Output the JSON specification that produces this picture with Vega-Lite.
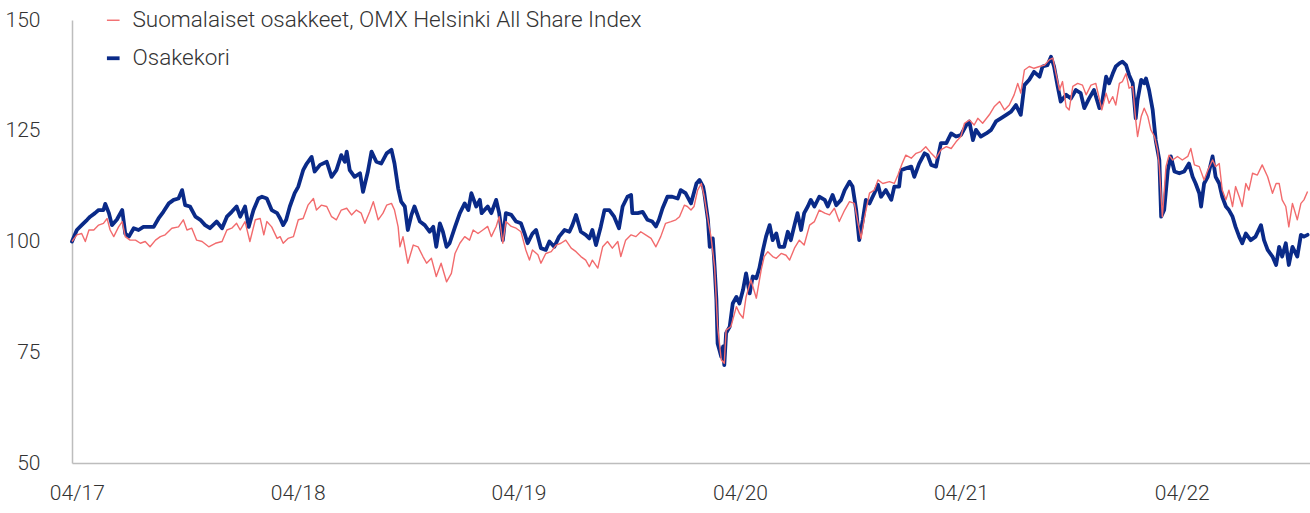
{
"$schema": "https://vega.github.io/schema/vega-lite/v6.json",
"width": 1238, "height": 443,
"autosize": {"type": "none"},
"padding": {"left": 72, "top": 20, "right": 0, "bottom": 50},
"background": "white",
"config": {
 "view": {"stroke": null},
 "font": "Roboto",
 "axis": {"grid": false, "ticks": false, "domainColor": "#bdbdbd", "domainWidth": 1.5, "labelFont": "Roboto", "labelFontWeight": 300, "labelFontSize": 21, "labelColor": "#333333", "title": null},
 "legend": {"orient": "none", "legendX": 30, "legendY": -11, "direction": "vertical", "padding": 0, "labelFont": "Roboto", "labelFontWeight": 300, "labelFontSize": 22.5, "labelColor": "#333333", "labelLimit": 800, "labelOffset": 8, "rowPadding": 15, "symbolType": "stroke", "symbolSize": 160, "title": null}
},
"datasets": {
"kori": [
{"d":"2017-03-24","v":100},{"d":"2017-04-01","v":102.6},{"d":"2017-04-09","v":103.7},{"d":"2017-04-18","v":104.9},{"d":"2017-04-23","v":105.6},{"d":"2017-05-01","v":106.4},{"d":"2017-05-07","v":107.1},{"d":"2017-05-15","v":107.1},{"d":"2017-05-18","v":108.5},{"d":"2017-05-24","v":106.4},{"d":"2017-05-29","v":103.7},{"d":"2017-06-06","v":104.9},{"d":"2017-06-15","v":107.1},{"d":"2017-06-20","v":101.8},{"d":"2017-06-26","v":101.1},{"d":"2017-07-04","v":103.0},{"d":"2017-07-12","v":102.6},{"d":"2017-07-20","v":103.3},{"d":"2017-07-29","v":103.3},{"d":"2017-08-06","v":103.3},{"d":"2017-08-14","v":105.2},{"d":"2017-08-22","v":106.7},{"d":"2017-08-31","v":108.6},{"d":"2017-09-08","v":109.4},{"d":"2017-09-16","v":109.7},{"d":"2017-09-22","v":111.6},{"d":"2017-09-27","v":108.2},{"d":"2017-10-05","v":107.9},{"d":"2017-10-14","v":105.6},{"d":"2017-10-22","v":104.9},{"d":"2017-10-30","v":103.7},{"d":"2017-11-07","v":103.0},{"d":"2017-11-18","v":104.5},{"d":"2017-11-27","v":103.0},{"d":"2017-12-05","v":105.6},{"d":"2017-12-13","v":106.7},{"d":"2017-12-21","v":107.9},{"d":"2017-12-27","v":105.6},{"d":"2018-01-04","v":107.9},{"d":"2018-01-10","v":103.3},{"d":"2018-01-18","v":107.1},{"d":"2018-01-26","v":109.7},{"d":"2018-02-01","v":110.1},{"d":"2018-02-09","v":109.7},{"d":"2018-02-17","v":107.1},{"d":"2018-02-26","v":106.4},{"d":"2018-03-03","v":105.2},{"d":"2018-03-08","v":103.7},{"d":"2018-03-13","v":104.9},{"d":"2018-03-19","v":107.9},{"d":"2018-03-27","v":110.9},{"d":"2018-04-02","v":112.4},{"d":"2018-04-10","v":116.1},{"d":"2018-04-16","v":117.6},{"d":"2018-04-24","v":119.1},{"d":"2018-04-29","v":115.8},{"d":"2018-05-08","v":117.3},{"d":"2018-05-19","v":118.0},{"d":"2018-05-27","v":114.6},{"d":"2018-06-04","v":116.1},{"d":"2018-06-12","v":119.5},{"d":"2018-06-18","v":118.0},{"d":"2018-06-21","v":120.3},{"d":"2018-06-26","v":116.1},{"d":"2018-07-04","v":114.6},{"d":"2018-07-13","v":115.4},{"d":"2018-07-18","v":111.2},{"d":"2018-07-26","v":115.8},{"d":"2018-08-01","v":120.3},{"d":"2018-08-09","v":118.0},{"d":"2018-08-17","v":117.6},{"d":"2018-08-26","v":119.9},{"d":"2018-09-03","v":120.7},{"d":"2018-09-08","v":117.6},{"d":"2018-09-14","v":112.0},{"d":"2018-09-19","v":109.0},{"d":"2018-09-25","v":107.9},{"d":"2018-09-30","v":102.6},{"d":"2018-10-06","v":106.0},{"d":"2018-10-11","v":107.9},{"d":"2018-10-20","v":104.5},{"d":"2018-10-28","v":103.7},{"d":"2018-11-05","v":102.2},{"d":"2018-11-11","v":103.3},{"d":"2018-11-16","v":98.8},{"d":"2018-11-22","v":104.1},{"d":"2018-11-27","v":102.2},{"d":"2018-12-03","v":98.8},{"d":"2018-12-08","v":99.6},{"d":"2018-12-17","v":103.3},{"d":"2018-12-25","v":106.4},{"d":"2019-01-02","v":108.6},{"d":"2019-01-08","v":107.1},{"d":"2019-01-13","v":110.9},{"d":"2019-01-21","v":107.9},{"d":"2019-01-27","v":109.4},{"d":"2019-01-30","v":106.4},{"d":"2019-02-09","v":107.9},{"d":"2019-02-15","v":106.4},{"d":"2019-02-23","v":109.4},{"d":"2019-02-28","v":106.4},{"d":"2019-03-06","v":100.3},{"d":"2019-03-11","v":106.4},{"d":"2019-03-20","v":106.0},{"d":"2019-03-28","v":104.5},{"d":"2019-04-05","v":104.1},{"d":"2019-04-11","v":101.8},{"d":"2019-04-16","v":99.6},{"d":"2019-04-24","v":101.8},{"d":"2019-04-30","v":102.6},{"d":"2019-05-08","v":98.5},{"d":"2019-05-16","v":98.1},{"d":"2019-05-22","v":100.0},{"d":"2019-05-30","v":98.8},{"d":"2019-06-07","v":101.1},{"d":"2019-06-16","v":102.6},{"d":"2019-06-24","v":102.2},{"d":"2019-06-29","v":103.7},{"d":"2019-07-05","v":106.0},{"d":"2019-07-13","v":102.2},{"d":"2019-07-21","v":101.5},{"d":"2019-07-27","v":100.7},{"d":"2019-08-01","v":102.6},{"d":"2019-08-07","v":99.2},{"d":"2019-08-15","v":103.4},{"d":"2019-08-21","v":107.1},{"d":"2019-08-29","v":107.1},{"d":"2019-09-06","v":105.6},{"d":"2019-09-14","v":103.0},{"d":"2019-09-20","v":107.9},{"d":"2019-09-28","v":110.1},{"d":"2019-10-04","v":110.5},{"d":"2019-10-06","v":106.4},{"d":"2019-10-15","v":106.4},{"d":"2019-10-23","v":106.7},{"d":"2019-10-31","v":104.9},{"d":"2019-11-08","v":104.5},{"d":"2019-11-14","v":103.4},{"d":"2019-11-19","v":104.9},{"d":"2019-11-25","v":107.5},{"d":"2019-12-03","v":110.1},{"d":"2019-12-11","v":110.1},{"d":"2019-12-20","v":109.7},{"d":"2019-12-25","v":111.6},{"d":"2020-01-02","v":110.9},{"d":"2020-01-11","v":108.6},{"d":"2020-01-20","v":113.1},{"d":"2020-01-25","v":113.9},{"d":"2020-01-31","v":112.4},{"d":"2020-02-02","v":110.9},{"d":"2020-02-08","v":104.9},{"d":"2020-02-11","v":98.8},{"d":"2020-02-16","v":100.7},{"d":"2020-02-19","v":94.3},{"d":"2020-02-22","v":86.8},{"d":"2020-02-24","v":77.0},{"d":"2020-02-27","v":75.5},{"d":"2020-03-01","v":74.0},{"d":"2020-03-04","v":76.3},{"d":"2020-03-06","v":72.1},{"d":"2020-03-09","v":79.3},{"d":"2020-03-15","v":80.8},{"d":"2020-03-20","v":86.0},{"d":"2020-03-26","v":87.5},{"d":"2020-03-31","v":86.0},{"d":"2020-04-06","v":89.1},{"d":"2020-04-11","v":92.8},{"d":"2020-04-17","v":88.3},{"d":"2020-04-22","v":92.1},{"d":"2020-04-28","v":91.7},{"d":"2020-05-03","v":94.0},{"d":"2020-05-09","v":98.1},{"d":"2020-05-14","v":101.1},{"d":"2020-05-20","v":103.7},{"d":"2020-05-25","v":100.3},{"d":"2020-05-31","v":101.8},{"d":"2020-06-05","v":98.8},{"d":"2020-06-13","v":98.8},{"d":"2020-06-19","v":102.2},{"d":"2020-06-24","v":100.3},{"d":"2020-06-30","v":103.7},{"d":"2020-07-05","v":106.4},{"d":"2020-07-11","v":102.6},{"d":"2020-07-16","v":106.4},{"d":"2020-07-22","v":107.9},{"d":"2020-07-27","v":109.4},{"d":"2020-08-02","v":107.9},{"d":"2020-08-10","v":110.1},{"d":"2020-08-19","v":109.4},{"d":"2020-08-24","v":107.9},{"d":"2020-09-01","v":110.5},{"d":"2020-09-07","v":108.2},{"d":"2020-09-15","v":109.4},{"d":"2020-09-21","v":111.6},{"d":"2020-09-29","v":113.5},{"d":"2020-10-04","v":112.4},{"d":"2020-10-10","v":107.1},{"d":"2020-10-15","v":100.3},{"d":"2020-10-21","v":104.9},{"d":"2020-10-26","v":109.4},{"d":"2020-11-01","v":108.6},{"d":"2020-11-09","v":110.9},{"d":"2020-11-15","v":112.8},{"d":"2020-11-20","v":110.1},{"d":"2020-11-28","v":111.6},{"d":"2020-12-07","v":109.4},{"d":"2020-12-12","v":112.4},{"d":"2020-12-20","v":112.4},{"d":"2020-12-23","v":116.1},{"d":"2020-12-31","v":116.5},{"d":"2021-01-09","v":116.9},{"d":"2021-01-14","v":114.6},{"d":"2021-01-22","v":117.6},{"d":"2021-01-31","v":119.9},{"d":"2021-02-05","v":119.5},{"d":"2021-02-11","v":117.3},{"d":"2021-02-19","v":116.9},{"d":"2021-02-27","v":122.2},{"d":"2021-03-08","v":122.2},{"d":"2021-03-16","v":124.4},{"d":"2021-03-24","v":123.7},{"d":"2021-04-01","v":124.0},{"d":"2021-04-10","v":126.3},{"d":"2021-04-15","v":127.1},{"d":"2021-04-21","v":122.9},{"d":"2021-04-26","v":125.2},{"d":"2021-05-04","v":123.7},{"d":"2021-05-13","v":124.4},{"d":"2021-05-21","v":125.2},{"d":"2021-05-29","v":127.1},{"d":"2021-06-06","v":127.8},{"d":"2021-06-15","v":128.6},{"d":"2021-06-23","v":129.3},{"d":"2021-07-01","v":130.8},{"d":"2021-07-09","v":128.6},{"d":"2021-07-15","v":135.3},{"d":"2021-07-23","v":136.5},{"d":"2021-07-31","v":138.3},{"d":"2021-08-09","v":137.2},{"d":"2021-08-14","v":139.5},{"d":"2021-08-22","v":139.8},{"d":"2021-08-28","v":141.7},{"d":"2021-09-02","v":139.5},{"d":"2021-09-08","v":135.0},{"d":"2021-09-13","v":131.6},{"d":"2021-09-22","v":133.1},{"d":"2021-09-30","v":132.3},{"d":"2021-10-08","v":134.2},{"d":"2021-10-16","v":133.5},{"d":"2021-10-22","v":130.1},{"d":"2021-10-30","v":132.3},{"d":"2021-11-07","v":134.2},{"d":"2021-11-16","v":130.1},{"d":"2021-11-21","v":131.9},{"d":"2021-11-27","v":137.2},{"d":"2021-12-02","v":135.7},{"d":"2021-12-08","v":137.9},{"d":"2021-12-13","v":139.5},{"d":"2021-12-19","v":140.2},{"d":"2021-12-24","v":140.6},{"d":"2021-12-30","v":139.8},{"d":"2022-01-04","v":137.6},{"d":"2022-01-10","v":135.7},{"d":"2022-01-15","v":127.8},{"d":"2022-01-18","v":131.9},{"d":"2022-01-24","v":136.5},{"d":"2022-01-29","v":135.7},{"d":"2022-02-01","v":136.8},{"d":"2022-02-06","v":134.2},{"d":"2022-02-12","v":129.7},{"d":"2022-02-17","v":122.9},{"d":"2022-02-23","v":118.4},{"d":"2022-02-26","v":105.6},{"d":"2022-03-03","v":107.1},{"d":"2022-03-09","v":116.1},{"d":"2022-03-14","v":119.2},{"d":"2022-03-20","v":115.8},{"d":"2022-03-28","v":115.4},{"d":"2022-04-05","v":115.8},{"d":"2022-04-13","v":117.6},{"d":"2022-04-19","v":114.6},{"d":"2022-04-24","v":113.1},{"d":"2022-04-30","v":110.9},{"d":"2022-05-03","v":107.9},{"d":"2022-05-08","v":113.1},{"d":"2022-05-14","v":114.6},{"d":"2022-05-22","v":119.2},{"d":"2022-05-27","v":114.6},{"d":"2022-06-02","v":113.1},{"d":"2022-06-07","v":110.1},{"d":"2022-06-13","v":107.9},{"d":"2022-06-18","v":107.1},{"d":"2022-06-24","v":105.6},{"d":"2022-06-29","v":103.3},{"d":"2022-07-05","v":101.1},{"d":"2022-07-10","v":99.6},{"d":"2022-07-16","v":101.8},{"d":"2022-07-24","v":100.3},{"d":"2022-08-01","v":101.1},{"d":"2022-08-10","v":103.7},{"d":"2022-08-15","v":100.3},{"d":"2022-08-21","v":98.1},{"d":"2022-08-29","v":96.6},{"d":"2022-09-04","v":94.7},{"d":"2022-09-09","v":98.8},{"d":"2022-09-14","v":96.6},{"d":"2022-09-20","v":99.6},{"d":"2022-09-25","v":94.7},{"d":"2022-10-01","v":98.8},{"d":"2022-10-09","v":96.6},{"d":"2022-10-15","v":101.5},{"d":"2022-10-20","v":101.1},{"d":"2022-10-26","v":101.5}
],
"omx": [
{"d":"2017-03-24","v":100},{"d":"2017-04-01","v":101.5},{"d":"2017-04-09","v":101.8},{"d":"2017-04-15","v":100.0},{"d":"2017-04-21","v":102.6},{"d":"2017-04-29","v":102.6},{"d":"2017-05-07","v":103.7},{"d":"2017-05-15","v":104.1},{"d":"2017-05-21","v":105.2},{"d":"2017-05-26","v":102.6},{"d":"2017-06-01","v":101.1},{"d":"2017-06-09","v":103.3},{"d":"2017-06-15","v":104.5},{"d":"2017-06-20","v":101.1},{"d":"2017-06-28","v":100.3},{"d":"2017-07-07","v":100.3},{"d":"2017-07-15","v":99.6},{"d":"2017-07-23","v":100.0},{"d":"2017-07-31","v":98.8},{"d":"2017-08-09","v":100.3},{"d":"2017-08-17","v":101.1},{"d":"2017-08-25","v":101.5},{"d":"2017-09-05","v":103.0},{"d":"2017-09-16","v":103.3},{"d":"2017-09-24","v":104.9},{"d":"2017-09-30","v":102.6},{"d":"2017-10-08","v":103.0},{"d":"2017-10-16","v":100.3},{"d":"2017-10-25","v":100.0},{"d":"2017-11-05","v":98.8},{"d":"2017-11-16","v":99.6},{"d":"2017-11-27","v":100.0},{"d":"2017-12-05","v":102.6},{"d":"2017-12-13","v":103.0},{"d":"2017-12-21","v":104.1},{"d":"2017-12-27","v":102.6},{"d":"2018-01-04","v":104.5},{"d":"2018-01-12","v":100.0},{"d":"2018-01-21","v":104.9},{"d":"2018-01-29","v":105.2},{"d":"2018-02-04","v":101.5},{"d":"2018-02-09","v":104.5},{"d":"2018-02-17","v":103.3},{"d":"2018-02-26","v":100.7},{"d":"2018-03-03","v":101.1},{"d":"2018-03-08","v":99.6},{"d":"2018-03-16","v":100.7},{"d":"2018-03-25","v":101.1},{"d":"2018-04-02","v":104.9},{"d":"2018-04-10","v":105.2},{"d":"2018-04-18","v":108.2},{"d":"2018-04-27","v":109.7},{"d":"2018-05-02","v":107.1},{"d":"2018-05-10","v":108.2},{"d":"2018-05-19","v":107.9},{"d":"2018-05-27","v":105.6},{"d":"2018-06-04","v":104.9},{"d":"2018-06-12","v":107.1},{"d":"2018-06-21","v":107.5},{"d":"2018-06-29","v":106.0},{"d":"2018-07-07","v":107.1},{"d":"2018-07-15","v":106.4},{"d":"2018-07-21","v":104.1},{"d":"2018-07-29","v":106.7},{"d":"2018-08-04","v":109.0},{"d":"2018-08-12","v":104.9},{"d":"2018-08-20","v":106.4},{"d":"2018-08-26","v":108.2},{"d":"2018-09-03","v":108.6},{"d":"2018-09-08","v":107.1},{"d":"2018-09-14","v":103.3},{"d":"2018-09-17","v":98.8},{"d":"2018-09-22","v":101.1},{"d":"2018-09-30","v":95.1},{"d":"2018-10-09","v":99.2},{"d":"2018-10-17","v":98.8},{"d":"2018-10-25","v":96.6},{"d":"2018-10-31","v":95.1},{"d":"2018-11-08","v":96.2},{"d":"2018-11-16","v":92.1},{"d":"2018-11-24","v":95.1},{"d":"2018-12-03","v":90.9},{"d":"2018-12-11","v":92.8},{"d":"2018-12-17","v":97.3},{"d":"2018-12-25","v":99.6},{"d":"2019-01-02","v":101.1},{"d":"2019-01-10","v":100.3},{"d":"2019-01-16","v":102.6},{"d":"2019-01-24","v":101.8},{"d":"2019-02-01","v":102.6},{"d":"2019-02-09","v":103.4},{"d":"2019-02-15","v":101.1},{"d":"2019-02-23","v":103.4},{"d":"2019-02-28","v":105.6},{"d":"2019-03-06","v":99.6},{"d":"2019-03-11","v":104.5},{"d":"2019-03-20","v":103.4},{"d":"2019-03-28","v":103.0},{"d":"2019-04-05","v":102.2},{"d":"2019-04-13","v":98.1},{"d":"2019-04-19","v":95.8},{"d":"2019-04-24","v":98.1},{"d":"2019-05-03","v":97.0},{"d":"2019-05-08","v":95.1},{"d":"2019-05-16","v":97.3},{"d":"2019-05-25","v":97.7},{"d":"2019-06-02","v":99.2},{"d":"2019-06-10","v":99.6},{"d":"2019-06-18","v":100.3},{"d":"2019-06-27","v":98.5},{"d":"2019-07-05","v":97.7},{"d":"2019-07-13","v":96.6},{"d":"2019-07-21","v":95.8},{"d":"2019-07-27","v":94.3},{"d":"2019-08-01","v":95.8},{"d":"2019-08-10","v":94.0},{"d":"2019-08-18","v":98.8},{"d":"2019-08-26","v":100.0},{"d":"2019-09-03","v":98.5},{"d":"2019-09-12","v":100.0},{"d":"2019-09-17","v":96.6},{"d":"2019-09-25","v":100.3},{"d":"2019-10-04","v":101.5},{"d":"2019-10-12","v":101.1},{"d":"2019-10-20","v":102.2},{"d":"2019-10-28","v":101.5},{"d":"2019-11-06","v":100.7},{"d":"2019-11-14","v":98.8},{"d":"2019-11-22","v":101.1},{"d":"2019-11-30","v":104.1},{"d":"2019-12-09","v":104.5},{"d":"2019-12-17","v":104.9},{"d":"2019-12-23","v":105.6},{"d":"2019-12-31","v":108.2},{"d":"2020-01-05","v":107.9},{"d":"2020-01-11","v":107.1},{"d":"2020-01-16","v":107.9},{"d":"2020-01-22","v":111.6},{"d":"2020-01-28","v":113.1},{"d":"2020-02-02","v":110.1},{"d":"2020-02-08","v":104.9},{"d":"2020-02-13","v":101.1},{"d":"2020-02-19","v":94.3},{"d":"2020-02-24","v":80.8},{"d":"2020-03-01","v":73.3},{"d":"2020-03-06","v":72.5},{"d":"2020-03-09","v":80.0},{"d":"2020-03-17","v":80.8},{"d":"2020-03-26","v":85.3},{"d":"2020-03-31","v":83.8},{"d":"2020-04-06","v":82.7},{"d":"2020-04-11","v":87.5},{"d":"2020-04-19","v":91.3},{"d":"2020-04-28","v":87.2},{"d":"2020-05-06","v":93.6},{"d":"2020-05-11","v":96.6},{"d":"2020-05-17","v":97.7},{"d":"2020-05-25","v":96.6},{"d":"2020-05-31","v":96.2},{"d":"2020-06-08","v":97.3},{"d":"2020-06-16","v":96.9},{"d":"2020-06-22","v":95.8},{"d":"2020-06-30","v":98.5},{"d":"2020-07-08","v":100.3},{"d":"2020-07-16","v":99.2},{"d":"2020-07-25","v":103.7},{"d":"2020-08-02","v":104.5},{"d":"2020-08-10","v":107.1},{"d":"2020-08-19","v":106.4},{"d":"2020-08-27","v":106.0},{"d":"2020-09-04","v":107.5},{"d":"2020-09-12","v":104.5},{"d":"2020-09-21","v":107.1},{"d":"2020-09-29","v":109.0},{"d":"2020-10-07","v":108.6},{"d":"2020-10-13","v":104.1},{"d":"2020-10-18","v":100.7},{"d":"2020-10-24","v":105.6},{"d":"2020-11-01","v":110.9},{"d":"2020-11-09","v":111.6},{"d":"2020-11-15","v":113.9},{"d":"2020-11-23","v":113.1},{"d":"2020-12-04","v":113.5},{"d":"2020-12-12","v":113.1},{"d":"2020-12-18","v":115.0},{"d":"2020-12-25","v":117.6},{"d":"2020-12-31","v":119.5},{"d":"2021-01-09","v":118.8},{"d":"2021-01-17","v":119.9},{"d":"2021-01-25","v":120.3},{"d":"2021-02-02","v":121.4},{"d":"2021-02-11","v":119.9},{"d":"2021-02-19","v":118.8},{"d":"2021-02-27","v":120.7},{"d":"2021-03-08","v":121.4},{"d":"2021-03-16","v":121.0},{"d":"2021-03-24","v":122.5},{"d":"2021-04-01","v":123.7},{"d":"2021-04-07","v":126.7},{"d":"2021-04-15","v":127.4},{"d":"2021-04-23","v":126.3},{"d":"2021-04-29","v":127.8},{"d":"2021-05-07","v":126.7},{"d":"2021-05-18","v":128.6},{"d":"2021-05-26","v":130.4},{"d":"2021-06-04","v":131.6},{"d":"2021-06-12","v":129.7},{"d":"2021-06-20","v":130.8},{"d":"2021-06-28","v":133.1},{"d":"2021-07-04","v":135.7},{"d":"2021-07-09","v":133.5},{"d":"2021-07-15","v":138.7},{"d":"2021-07-23","v":139.5},{"d":"2021-07-31","v":139.1},{"d":"2021-08-09","v":139.5},{"d":"2021-08-17","v":139.8},{"d":"2021-08-25","v":141.0},{"d":"2021-08-31","v":141.4},{"d":"2021-09-05","v":138.0},{"d":"2021-09-11","v":134.2},{"d":"2021-09-16","v":136.1},{"d":"2021-09-22","v":130.4},{"d":"2021-09-27","v":129.7},{"d":"2021-10-03","v":135.0},{"d":"2021-10-11","v":135.7},{"d":"2021-10-19","v":135.3},{"d":"2021-10-25","v":133.1},{"d":"2021-11-02","v":135.3},{"d":"2021-11-10","v":135.7},{"d":"2021-11-20","v":129.7},{"d":"2021-11-27","v":133.5},{"d":"2021-12-02","v":131.2},{"d":"2021-12-08","v":132.7},{"d":"2021-12-13","v":130.8},{"d":"2021-12-19","v":135.7},{"d":"2021-12-24","v":136.1},{"d":"2021-12-30","v":137.9},{"d":"2022-01-04","v":134.6},{"d":"2022-01-10","v":135.0},{"d":"2022-01-15","v":127.4},{"d":"2022-01-18","v":123.7},{"d":"2022-01-24","v":128.2},{"d":"2022-01-29","v":130.1},{"d":"2022-02-04","v":128.2},{"d":"2022-02-09","v":125.2},{"d":"2022-02-15","v":123.7},{"d":"2022-02-20","v":120.7},{"d":"2022-02-23","v":116.9},{"d":"2022-02-28","v":105.6},{"d":"2022-03-06","v":116.9},{"d":"2022-03-11","v":119.5},{"d":"2022-03-17","v":118.4},{"d":"2022-03-25","v":119.2},{"d":"2022-04-02","v":118.4},{"d":"2022-04-11","v":119.2},{"d":"2022-04-16","v":121.0},{"d":"2022-04-22","v":117.3},{"d":"2022-04-30","v":116.9},{"d":"2022-05-08","v":113.9},{"d":"2022-05-14","v":116.1},{"d":"2022-05-22","v":118.4},{"d":"2022-05-27","v":116.9},{"d":"2022-06-02","v":117.6},{"d":"2022-06-07","v":111.6},{"d":"2022-06-13","v":109.4},{"d":"2022-06-18","v":111.6},{"d":"2022-06-24","v":107.9},{"d":"2022-06-29","v":112.4},{"d":"2022-07-05","v":110.1},{"d":"2022-07-10","v":107.9},{"d":"2022-07-16","v":113.1},{"d":"2022-07-21","v":111.6},{"d":"2022-07-27","v":115.4},{"d":"2022-08-04","v":115.0},{"d":"2022-08-12","v":117.3},{"d":"2022-08-21","v":114.6},{"d":"2022-08-29","v":110.9},{"d":"2022-09-04","v":113.1},{"d":"2022-09-09","v":113.1},{"d":"2022-09-14","v":109.4},{"d":"2022-09-20","v":107.9},{"d":"2022-09-25","v":103.3},{"d":"2022-10-01","v":108.6},{"d":"2022-10-09","v":104.9},{"d":"2022-10-15","v":108.6},{"d":"2022-10-20","v":109.4},{"d":"2022-10-26","v":111.3}
]
},
"encoding": {
 "x": {"field": "d", "type": "temporal",
  "scale": {"domain": [{"year": 2017, "month": 3, "date": 24}, {"year": 2022, "month": 10, "date": 30}]},
  "axis": {"format": "%m/%y", "labelPadding": 19, "labelAlign": "center",
   "values": [{"year": 2017, "month": 4, "date": 1}, {"year": 2018, "month": 4, "date": 1}, {"year": 2019, "month": 4, "date": 1}, {"year": 2020, "month": 4, "date": 1}, {"year": 2021, "month": 4, "date": 1}, {"year": 2022, "month": 4, "date": 1}]}},
 "y": {"field": "v", "type": "quantitative",
  "scale": {"domain": [50, 150], "nice": false, "zero": false},
  "axis": {"values": [50, 75, 100, 125, 150], "labelPadding": 32, "labelAlign": "right", "labelBaseline": "middle"}}
},
"layer": [
 {"data": {"name": "kori"}, "mark": {"type": "line", "strokeJoin": "round", "strokeCap": "round"},
  "encoding": {
   "color": {"datum": "Osakekori", "type": "nominal", "scale": {"domain": ["Suomalaiset osakkeet, OMX Helsinki All Share Index", "Osakekori"], "range": ["#f26b6d", "#0a2a88"]}},
   "strokeWidth": {"datum": "Osakekori", "type": "nominal", "scale": {"domain": ["Suomalaiset osakkeet, OMX Helsinki All Share Index", "Osakekori"], "range": [1.4, 3.8]}}
  }},
 {"data": {"name": "omx"}, "mark": {"type": "line", "strokeJoin": "round"},
  "encoding": {
   "color": {"datum": "Suomalaiset osakkeet, OMX Helsinki All Share Index", "type": "nominal"},
   "strokeWidth": {"datum": "Suomalaiset osakkeet, OMX Helsinki All Share Index", "type": "nominal"}
  }}
]
}
